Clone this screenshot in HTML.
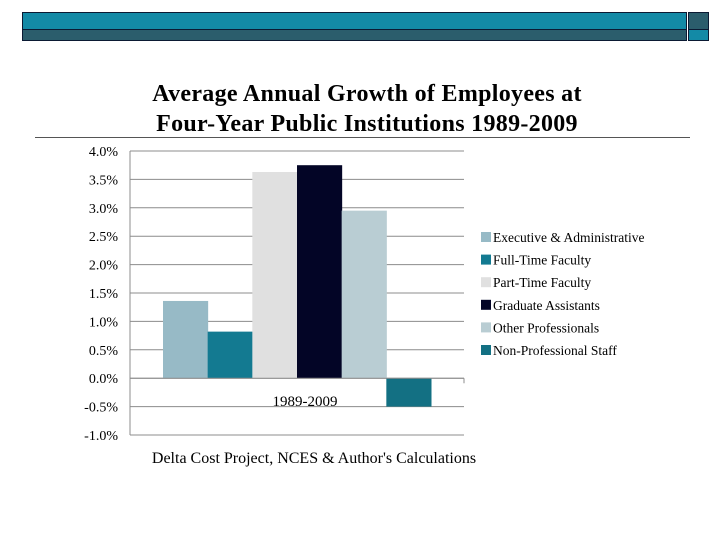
<!DOCTYPE html>
<html><head><meta charset="utf-8"><style>
body{margin:0;background:#fff;width:720px;height:540px;overflow:hidden;position:relative;font-family:"Liberation Serif",serif}
.abs{position:absolute}
</style></head><body>
<div class="abs" style="left:22px;top:12px;width:665px;height:18px;background:#138aa6;border:1px solid #0b1a33;box-sizing:border-box"></div>
<div class="abs" style="left:22px;top:29px;width:665px;height:12px;background:#2b5d6c;border:1px solid #0b1a33;box-sizing:border-box"></div>
<div class="abs" style="left:688px;top:12px;width:21px;height:18px;background:#2b5d6c;border:1px solid #0b1a33;box-sizing:border-box"></div>
<div class="abs" style="left:688px;top:29px;width:21px;height:12px;background:#138aa6;border:1px solid #0b1a33;box-sizing:border-box"></div>
<div class="abs" style="left:0;width:734px;top:79px;text-align:center;font-weight:bold;font-size:24px;line-height:30px;letter-spacing:0.3px">Average Annual Growth of Employees at<br>Four-Year Public Institutions 1989-2009</div>
<div class="abs" style="left:35px;top:137px;width:655px;height:1px;background:#555"></div>
<svg class="abs" style="left:0;top:0" width="720" height="540" id="chart"></svg>
<script>
const ticks=[4.0,3.5,3.0,2.5,2.0,1.5,1.0,0.5,0.0,-0.5,-1.0];
const series=["Executive & Administrative","Full-Time Faculty","Part-Time Faculty","Graduate Assistants","Other Professionals","Non-Professional Staff"];
const values=[1.36,0.82,3.63,3.75,2.95,-0.50];
const colors=["#97bac6","#137a91","#e0e0e0","#030526","#b9cdd3","#137083"];
const category="1989-2009";
const NS="http://www.w3.org/2000/svg",svg=document.getElementById('chart');
const L=130,R=464,T=151,B=435,ymax=4,ymin=-1;
const y=v=>T+(ymax-v)/(ymax-ymin)*(B-T);
function mk(t,a,txt){const e=document.createElementNS(NS,t);for(const k in a)e.setAttribute(k,a[k]);if(txt!=null)e.textContent=txt;svg.appendChild(e);return e;}
ticks.forEach(t=>{
 const g=mk('line',{x1:L,x2:R,y1:y(t),y2:y(t),stroke:'#8c8c8c','stroke-width':1});
 
 
 const lb=mk('text',{x:118,y:y(t)+5,'text-anchor':'end','font-size':14,'font-family':'Liberation Serif, serif',fill:'#000'},t.toFixed(1)+'%');
 
 
});
const ax=mk('line',{x1:L,x2:L,y1:T,y2:B,stroke:'#8c8c8c'});


const gx=33,bw=(R-L-2*gx)/values.length;
values.forEach((v,i)=>{
 const y0=y(0),y1=y(v);
 const r=mk('rect',{x:L+gx+i*bw,y:Math.min(y0,y1),width:bw+0.5,height:Math.abs(y1-y0),fill:colors[i]});
 
 
});
const za=mk('line',{x1:L,x2:R,y1:y(0),y2:y(0),stroke:'#8c8c8c'});


const zt=mk('line',{x1:R,x2:R,y1:y(0),y2:y(0)+5,stroke:'#8c8c8c'});


const ct=mk('text',{x:(L+R)/2+8,y:y(0)+28,'text-anchor':'middle','font-size':15,'font-family':'Liberation Serif, serif'},category);


series.forEach((s,i)=>{
 const yy=237+i*22.6;
 const sq=mk('rect',{x:481,y:yy-5,width:10,height:10,fill:colors[i]});
 
 
 const tx=mk('text',{x:493,y:yy+5,'font-size':13.5,'font-family':'Liberation Serif, serif'},s);
 
 
});
const src=mk('text',{x:314,y:463,'text-anchor':'middle','font-size':16,'font-family':'Liberation Serif, serif'},"Delta Cost Project, NCES & Author's Calculations");


</script>
</body></html>
